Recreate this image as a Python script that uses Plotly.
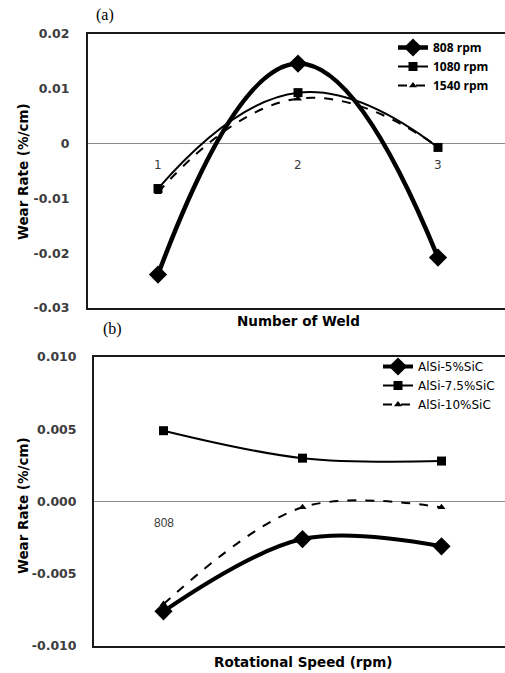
import plotly.graph_objects as go

# ---- Panel (a) data ----
weld_numbers = [1, 2, 3]
weld_tick_labels = ["1", "2", "3"]
rate_808 = [-0.0239, 0.0146, -0.0208]
rate_1080 = [-0.0082, 0.0093, -0.0007]
rate_1540 = [-0.0089, 0.0082, -0.0006]
yticks_a = [0.02, 0.01, 0, -0.01, -0.02, -0.03]
yticklabels_a = ["0.02", "0.01", "0", "-0.01", "-0.02", "-0.03"]

# ---- Panel (b) data ----
speed_positions = [1, 2, 3]
speed_tick_labels = ["808"]
rate_5sic = [-0.0076, -0.0026, -0.0031]
rate_75sic = [0.0049, 0.0030, 0.0028]
rate_10sic = [-0.0071, -0.0004, -0.0004]
yticks_b = [0.010, 0.005, 0.0, -0.005, -0.010]
yticklabels_b = ["0.010", "0.005", "0.000", "-0.005", "-0.010"]

W, H = 505, 673
BLACK = "#000000"
TICKFONT = dict(family="DejaVu Sans", size=12.5, color="#3c3c3c", weight="bold")

fig = go.Figure()

# panel (a)
fig.add_trace(go.Scatter(x=weld_numbers, y=rate_808, name="808 rpm", mode="lines+markers",
                         line=dict(color=BLACK, width=4.5, shape="spline", smoothing=1.3),
                         marker=dict(symbol="diamond", size=14, color=BLACK),
                         xaxis="x", yaxis="y", legend="legend"))
fig.add_trace(go.Scatter(x=weld_numbers, y=rate_1080, name="1080 rpm", mode="lines+markers",
                         line=dict(color=BLACK, width=2, shape="spline", smoothing=1.3),
                         marker=dict(symbol="square", size=9, color=BLACK),
                         xaxis="x", yaxis="y", legend="legend"))
fig.add_trace(go.Scatter(x=weld_numbers, y=rate_1540, name="1540 rpm", mode="lines+markers",
                         line=dict(color=BLACK, width=2, dash="dash", shape="spline", smoothing=1.3),
                         marker=dict(symbol="triangle-up", size=7, color=BLACK),
                         xaxis="x", yaxis="y", legend="legend"))

# panel (b)
fig.add_trace(go.Scatter(x=speed_positions, y=rate_5sic, name="AlSi-5%SiC", mode="lines+markers",
                         line=dict(color=BLACK, width=4, shape="spline"),
                         marker=dict(symbol="diamond", size=14, color=BLACK),
                         xaxis="x2", yaxis="y2", legend="legend2"))
fig.add_trace(go.Scatter(x=speed_positions, y=rate_75sic, name="AlSi-7.5%SiC", mode="lines+markers",
                         line=dict(color=BLACK, width=2, shape="spline"),
                         marker=dict(symbol="square", size=9, color=BLACK),
                         xaxis="x2", yaxis="y2", legend="legend2"))
fig.add_trace(go.Scatter(x=speed_positions, y=rate_10sic, name="AlSi-10%SiC", mode="lines+markers",
                         line=dict(color=BLACK, width=2, dash="dash", shape="spline"),
                         marker=dict(symbol="triangle-up", size=7, color=BLACK),
                         xaxis="x2", yaxis="y2", legend="legend2"))

# domains from pixel positions
ax_left, bx_left = 88, 94
a_top, a_bot = 34, 308
b_top, b_bot = 357, 646
px_per_cat_a, px_per_cat_b = 140, 139

xa_rng = [0.5, 0.5 + (W - ax_left) / px_per_cat_a]
xb_rng = [0.5, 0.5 + (W - bx_left) / px_per_cat_b]

axis_line = dict(showline=True, linecolor="#1a1a1a", linewidth=2, automargin=False)

fig.update_layout(
    width=W, height=H, margin=dict(l=0, r=0, t=0, b=0, autoexpand=False),
    paper_bgcolor="white", plot_bgcolor="white",
    xaxis=dict(domain=[ax_left / W, 1], range=xa_rng, showticklabels=False, ticks="",
               showgrid=False, zeroline=False, mirror=True, anchor="y", **axis_line),
    yaxis=dict(domain=[1 - a_bot / H, 1 - a_top / H], range=[-0.03, 0.02],
               tickvals=yticks_a, ticktext=yticklabels_a, ticks="", showgrid=False,
               zeroline=True, zerolinecolor="#8a8a8a", zerolinewidth=1.2,
               tickfont=TICKFONT, ticklabelstandoff=14, anchor="x", **axis_line),
    xaxis2=dict(domain=[bx_left / W, 1], range=xb_rng, showticklabels=False, ticks="",
                showgrid=False, zeroline=False, mirror=True, anchor="y2", **axis_line),
    yaxis2=dict(domain=[1 - b_bot / H, 1 - b_top / H], range=[-0.010, 0.010],
                tickvals=yticks_b, ticktext=yticklabels_b, ticks="", showgrid=False,
                zeroline=True, zerolinecolor="#8a8a8a", zerolinewidth=1.2,
                tickfont=TICKFONT, ticklabelstandoff=13, anchor="x2", **axis_line),
    legend=dict(x=393 / W, y=1 - 33 / H, xanchor="left", yanchor="top",
                font=dict(family="Open Sans", size=12, color=BLACK, weight="bold"),
                bgcolor="rgba(0,0,0,0)", tracegroupgap=0, itemwidth=30),
    legend2=dict(x=378 / W, y=1 - 352 / H, xanchor="left", yanchor="top",
                 font=dict(family="DejaVu Sans", size=12, color=BLACK),
                 bgcolor="rgba(0,0,0,0)", tracegroupgap=0, itemwidth=30),
    showlegend=True,
)

annotations = []
# category labels for (a), just below the zero line
for xv, lab in zip(weld_numbers, weld_tick_labels):
    annotations.append(dict(x=xv, y=0, xref="x", yref="y", text=lab, showarrow=False,
                            xanchor="center", yanchor="middle", yshift=-21,
                            font=dict(family="DejaVu Sans", size=12, color="#3c3c3c")))
# category label for (b)
for xv, lab in zip(speed_positions, speed_tick_labels):
    annotations.append(dict(x=xv, y=0, xref="x2", yref="y2", text=lab, showarrow=False,
                            xanchor="center", yanchor="middle", yshift=-21,
                            font=dict(family="Liberation Sans", size=12, color="#3c3c3c")))

def paper_text(px, py, text, font, angle=0):
    return dict(x=px / W, y=1 - py / H, xref="paper", yref="paper", text=text,
                showarrow=False, xanchor="center", yanchor="middle", textangle=angle, font=font)

TITLEFONT = dict(family="DejaVu Sans", size=13.5, color=BLACK, weight="bold")
annotations += [
    paper_text(105, 15, "(a)", dict(family="Liberation Serif", size=16, color=BLACK)),
    paper_text(112, 329, "(b)", dict(family="Liberation Serif", size=16, color=BLACK)),
    paper_text(23, 172, "Wear Rate (%/cm)", TITLEFONT, -90),
    paper_text(23, 506, "Wear Rate (%/cm)", TITLEFONT, -90),
    paper_text(298, 321, "Number of Weld", TITLEFONT),
    paper_text(303, 662, "Rotational Speed (rpm)", TITLEFONT),
]
fig.update_layout(annotations=annotations)

post = ("document.body.style.margin='0';document.body.style.padding='0';"
        "document.body.style.overflow='hidden';"
        "document.documentElement.style.overflow='hidden';")
fig.write_html("out.html", post_script=post, config={"displayModeBar": False})
